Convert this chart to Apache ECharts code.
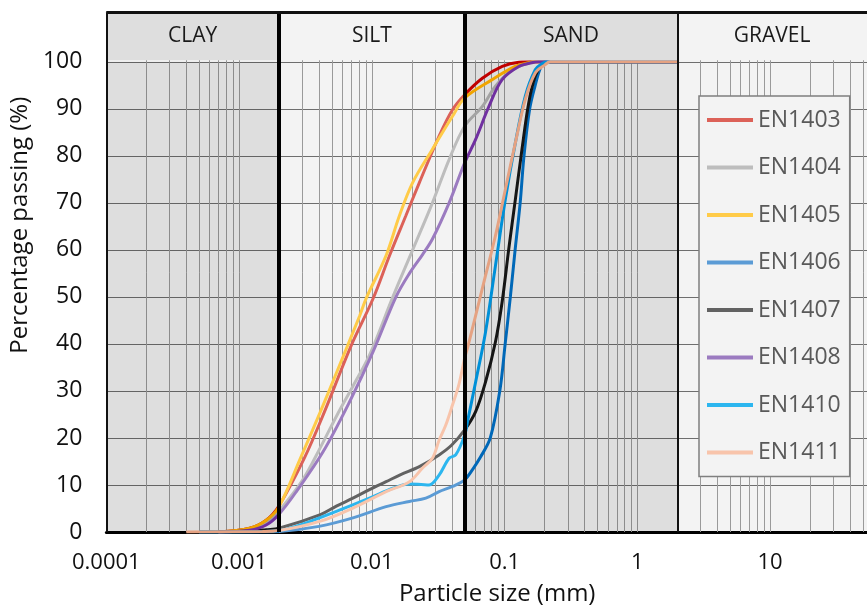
<!DOCTYPE html>
<html>
<head>
<meta charset="utf-8">
<script src="https://cdn.jsdelivr.net/npm/echarts@6/dist/echarts.min.js"></script>
<style>
html,body{margin:0;padding:0;background:#fff;}
#chart{width:867px;height:611px;}
</style>
</head>
<body>
<div id="chart"></div>
<script>
// ---- data (particle size mm, percentage passing %) ----
const seriesNames = ['EN1403','EN1404','EN1405','EN1406','EN1407','EN1408','EN1410','EN1411'];
const EN1403 = [[0.0007,0],[0.0012,0.8],[0.0016,2.5],[0.002,5.6],[0.0031,15.7],[0.0044,25.6],[0.007,39.7],[0.0102,49.6],[0.0136,58.8],[0.018,67.2],[0.0228,74.3],[0.0321,84.2],[0.0405,89.8],[0.05,93],[0.068,96.5],[0.096,99],[0.128,99.9],[0.16,100],[2,100]];
const EN1404 = [[0.0007,0],[0.0012,0.5],[0.0016,1.8],[0.002,4.5],[0.003,11],[0.0041,18],[0.0055,25],[0.0072,31],[0.0096,37.6],[0.0144,50],[0.0203,60],[0.0286,70],[0.0382,79.2],[0.05,86.3],[0.068,90.5],[0.0853,94.8],[0.114,98.3],[0.152,99.7],[0.17,100],[2,100]];
const EN1405 = [[0.0007,0],[0.0012,0.8],[0.0016,2.5],[0.002,5.4],[0.0029,15.7],[0.0041,25.6],[0.0057,35.4],[0.0081,46],[0.0091,49.8],[0.0128,58.8],[0.0161,67.2],[0.0203,74.3],[0.0286,81.4],[0.0405,88.4],[0.05,92.3],[0.0806,96.2],[0.12,99],[0.152,99.8],[0.17,100],[2,100]];
const EN1406 = [[0.0005,0],[0.0015,0],[0.002,0.1],[0.004,1.2],[0.0072,3],[0.0128,5.4],[0.0192,6.5],[0.0255,7.2],[0.0321,8.6],[0.0405,9.7],[0.05,11.1],[0.058,13.5],[0.066,16],[0.078,20],[0.092,30],[0.101,40],[0.1105,50],[0.12,60],[0.131,70],[0.14,80],[0.1545,90],[0.17,95],[0.185,98.5],[0.2,100],[2,100]];
const EN1407 = [[0.0007,0],[0.0012,0.2],[0.0016,0.5],[0.002,0.8],[0.0041,3.7],[0.0054,5.5],[0.0072,7.2],[0.0096,9],[0.0128,10.7],[0.0165,12.2],[0.0228,13.9],[0.0321,16.4],[0.04,18.5],[0.05,21.7],[0.0605,25.6],[0.0718,31.9],[0.0853,40.4],[0.0958,48.9],[0.1075,60.2],[0.1206,70.8],[0.1352,81.4],[0.1518,91.2],[0.17,96.9],[0.191,99.4],[0.21,100],[2,100]];
const EN1408 = [[0.0007,0],[0.0012,0.4],[0.0016,1.5],[0.002,3.8],[0.0027,8.6],[0.0043,17.1],[0.0068,27.7],[0.0102,38.3],[0.0152,50],[0.0192,55],[0.0241,59],[0.0286,62.3],[0.0382,70],[0.05,78.5],[0.0605,83.5],[0.0762,90.5],[0.0958,96.2],[0.128,99],[0.16,99.8],[0.18,100],[2,100]];
const EN1410 = [[0.0005,0],[0.0015,0.1],[0.002,0.3],[0.0054,4.4],[0.0096,7.2],[0.0144,9.3],[0.0192,10.2],[0.0235,10.1],[0.027,10],[0.0321,12.1],[0.0382,15.7],[0.0428,16.4],[0.05,20.6],[0.053,24],[0.0605,31.9],[0.0718,42.5],[0.0853,56.6],[0.1014,70.8],[0.1206,82.8],[0.1432,92.7],[0.1702,98.3],[0.191,99.6],[0.21,100],[2,100]];
const EN1411 = [[0.0004,0],[0.0015,0.1],[0.002,0.3],[0.0041,2.3],[0.0072,5.1],[0.0128,8.6],[0.0192,10.7],[0.0241,13.6],[0.0286,15.7],[0.0321,19.5],[0.036,22.7],[0.0405,27],[0.0454,31.5],[0.05,37],[0.0524,39],[0.0605,46],[0.0718,54.5],[0.0853,63],[0.1014,72.9],[0.1206,82.8],[0.1432,92],[0.1702,97.6],[0.2023,99.4],[0.22,100],[2,100]];
const seriesData = [EN1403, EN1404, EN1405, EN1406, EN1407, EN1408, EN1410, EN1411];

// soil classes (boundaries in mm)
const classNames = ['CLAY','SILT','SAND','GRAVEL'];
const classBounds = [0.0001, 0.002, 0.05, 2, 100];

// axis ticks
const xTickValues = [0.0001, 0.001, 0.01, 0.1, 1, 10];
const xTickLabels = ['0.0001','0.001','0.01','0.1','1','10'];
const xMax = 53.7; // visible right edge of the cropped axis
const yTickValues = [0,10,20,30,40,50,60,70,80,90,100];
const yMax = 110.5;

// ---- styles ----
const lightColors = ['#dc6158','#bdbdbd','#ffcb48','#5b9bd5','#626262','#9b7bc0','#2cb6ef','#f8c4ab'];
const darkColors  = ['#c00000','#a3a3a3','#f0a400','#0068b8','#151515','#7030a0','#0090d8','#e5a282'];
const FONT = '"Open Sans", "Liberation Sans", sans-serif';

const minorLines = [];
for (let k = -4; k <= 1; k++) {
  for (let m = 2; m <= 9; m++) minorLines.push({ xAxis: m * Math.pow(10, k) });
}
const majorLines = xTickValues.map(v => ({ xAxis: v }));

const shadeAreas = [];
const headerAreas = [];
for (let i = 0; i < classNames.length; i++) {
  if (i % 2 === 0) {
    shadeAreas.push([{ xAxis: classBounds[i], yAxis: 0 }, { xAxis: classBounds[i + 1], yAxis: 100 }]);
  }
  headerAreas.push([
    { name: classNames[i], xAxis: classBounds[i], yAxis: 100.3, itemStyle: { color: i % 2 === 0 ? '#dedede' : '#f3f3f3' } },
    { xAxis: Math.min(classBounds[i + 1], xMax), yAxis: yMax }
  ]);
}

const series = seriesNames.map((n, i) => ({
  name: n,
  type: 'line',
  data: seriesData[i],
  color: lightColors[i],
  smooth: 0.35,
  showSymbol: false,
  symbol: 'none',
  z: 3,
  lineStyle: { width: 3 },
  emphasis: { disabled: true }
}));

// gridlines (log lines) and class shading
series.unshift({
  type: 'line', data: [], silent: true, z: 1,
  markLine: {
    z: 1, silent: true, precision: 10, symbol: ['none', 'none'], label: { show: false },
    lineStyle: { color: '#9a9a9a', width: 1, type: 'solid' },
    emphasis: { disabled: true },
    data: minorLines.concat(majorLines)
  },
  markArea: {
    z: 1.5, silent: true,
    itemStyle: { color: 'rgba(0,0,0,0.085)' },
    emphasis: { disabled: true },
    data: shadeAreas
  }
});
// header boxes and borders
series.push({
  type: 'line', data: [], silent: true, z: 6,
  markArea: {
    z: 6, silent: true,
    label: { show: true, position: 'inside', color: '#1a1a1a', fontSize: 21, fontFamily: FONT },
    emphasis: { disabled: true },
    data: headerAreas
  },
  markLine: {
    z: 7, silent: true, precision: 10, symbol: ['none', 'none'], label: { show: false },
    emphasis: { disabled: true },
    data: [
      { xAxis: classBounds[0], lineStyle: { color: '#111', width: 2, type: 'solid' } },
      { xAxis: classBounds[1], lineStyle: { color: '#000', width: 4, type: 'solid' } },
      { xAxis: classBounds[2], lineStyle: { color: '#000', width: 4, type: 'solid' } },
      { xAxis: classBounds[3], lineStyle: { color: '#111', width: 2, type: 'solid' } },
      { yAxis: yMax, lineStyle: { color: '#111', width: 3, type: 'solid' } }
    ]
  }
});

const visualMaps = seriesNames.map((n, i) => ({
  type: 'piecewise', show: false, dimension: 0, seriesIndex: i + 1,
  pieces: [
    { lt: classBounds[1], color: darkColors[i] },
    { gte: classBounds[1], lt: classBounds[2], color: lightColors[i] },
    { gte: classBounds[2], color: darkColors[i] }
  ]
}));

const chart = echarts.init(document.getElementById('chart'));
chart.setOption({
  animation: false,
  backgroundColor: '#ffffff',
  textStyle: { fontFamily: FONT },
  grid: { left: 102, top: 12.4, bottom: 77, right: 0, show: true, backgroundColor: '#f3f3f3', borderWidth: 0 },
  legend: {
    data: seriesNames, orient: 'vertical', left: 699, top: 96,
    icon: 'rect', itemWidth: 46, itemHeight: 4, itemGap: 23.5,
    padding: [12, 9, 12, 8],
    backgroundColor: '#f3f3f3', borderColor: '#7f7f7f', borderWidth: 1.5,
    textStyle: { fontSize: 23, color: '#595959', lineHeight: 24, fontFamily: FONT }
  },
  visualMap: visualMaps,
  xAxis: {
    type: 'log', logBase: 10, min: xTickValues[0], max: xMax,
    name: 'Particle size (mm)', nameLocation: 'middle', nameGap: 50,
    nameTextStyle: { fontSize: 24, color: '#111', fontFamily: FONT, padding: [0, 0, 0, 21] },
    axisLine: { show: true, lineStyle: { color: '#000', width: 3 } },
    axisTick: { show: false },
    axisLabel: {
      fontSize: 22, color: '#111', margin: 20, fontFamily: FONT,
      showMaxLabel: false,
      formatter: v => {
        const i = xTickValues.findIndex(t => Math.abs(Math.log10(t) - Math.log10(v)) < 1e-6);
        return i >= 0 ? xTickLabels[i] : '';
      }
    },
    splitLine: { show: false }
  },
  yAxis: {
    type: 'value', min: 0, max: yMax, interval: 10,
    name: 'Percentage passing (%)', nameLocation: 'middle', nameGap: 64,
    nameTextStyle: { fontSize: 24, color: '#111', fontFamily: FONT, padding: [0, 0, 0, 94] },
    axisLine: { show: true, lineStyle: { color: '#111', width: 2 } },
    axisTick: { show: false },
    axisLabel: {
      fontSize: 23, color: '#111', margin: 24, fontFamily: FONT,
      formatter: v => (yTickValues.indexOf(v) >= 0 ? String(v) : '')
    },
    splitLine: { show: true, lineStyle: { color: '#6e6e6e', width: 1 } }
  },
  series: series
});
</script>
</body>
</html>
